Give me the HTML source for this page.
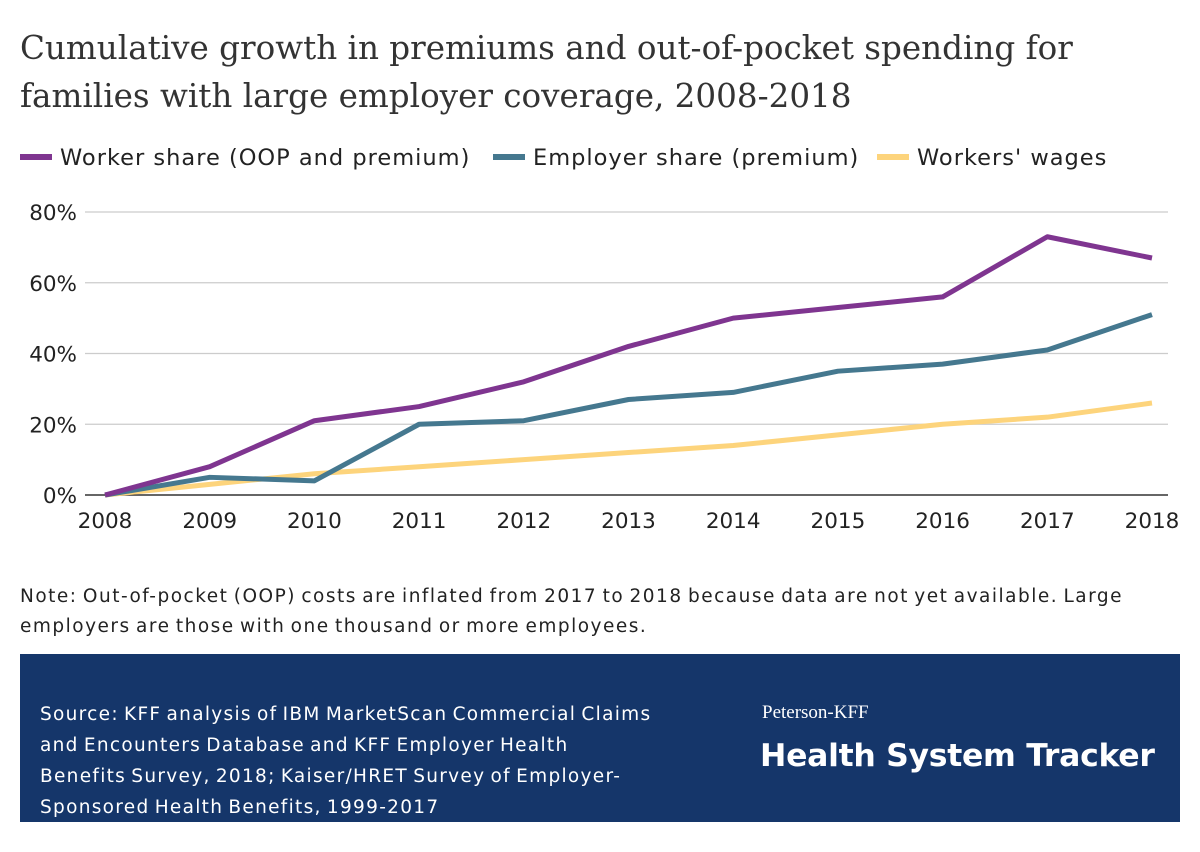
<!DOCTYPE html>
<html><head><meta charset="utf-8"><style>
body{margin:0;width:1200px;height:852px;background:#fff;font-family:"Liberation Sans",sans-serif;overflow:hidden;position:relative}
.t{position:absolute;white-space:nowrap}
</style></head><body>
<div class="t" style="left:20px;top:24px;font-family:'DejaVu Serif','Liberation Serif',serif;font-size:32.6px;line-height:48px;color:#333">Cumulative growth in premiums and out-of-pocket spending for<br>families with large employer coverage, 2008-2018</div>
<svg id="c" width="1200" height="560" style="position:absolute;left:0;top:0"></svg>
<div class="t" style="left:20px;top:582px;font-family:'DejaVu Sans',sans-serif;font-size:18.5px;line-height:30px;color:#222;letter-spacing:1.5px;word-spacing:-2px">Note: Out-of-pocket (OOP) costs are inflated from 2017 to 2018 because data are not yet available. Large<br>employers are those with one thousand or more employees.</div>
<div class="t" style="left:20px;top:654px;width:1160px;height:168px;background:#15366a">
<div class="t" style="left:20px;top:45px;font-family:'DejaVu Sans',sans-serif;font-size:18.5px;line-height:31px;color:#fff;letter-spacing:1.3px;word-spacing:-2px">Source: KFF analysis of IBM MarketScan Commercial Claims<br>and Encounters Database and KFF Employer Health<br>Benefits Survey, 2018; Kaiser/HRET Survey of Employer-<br>Sponsored Health Benefits, 1999-2017</div>
<div class="t" style="left:742px;top:48px;font-family:'Liberation Serif',serif;font-size:19px;color:#fff">Peterson-KFF</div>
<div class="t" style="left:740px;top:84px;font-family:'DejaVu Sans',sans-serif;font-size:31.5px;font-weight:bold;color:#fff;letter-spacing:-0.3px">Health System Tracker</div>
</div>
<script>
const years=[2008,2009,2010,2011,2012,2013,2014,2015,2016,2017,2018];
const worker=[0,8,21,25,32,42,50,53,56,73,67];
const employer=[0,5,4,20,21,27,29,35,37,41,51];
const wages=[0,3,6,8,10,12,14,17,20,22,26];
const yTicks=[0,20,40,60,80];
const NS="http://www.w3.org/2000/svg",svg=document.getElementById('c');
const x=i=>105+i*(1152-105)/(years.length-1);
const y=v=>495-v*(495-212)/80;
function mk(t,a){const e=document.createElementNS(NS,t);for(const k in a)e.setAttribute(k,a[k]);svg.appendChild(e);return e;}
yTicks.forEach(v=>{
 const l=mk('line',{x1:85,x2:1168,y1:y(v),y2:y(v),stroke:v===0?'#333':'#ccc','stroke-width':v===0?1.5:1.2});
 
 
 const t=mk('text',{x:77,y:y(v)+8,'text-anchor':'end','font-size':21.5,'font-family':'DejaVu Sans, sans-serif',fill:'#222'});t.textContent=v+'%';
 
 
});
years.forEach((yr,i)=>{
 const t=mk('text',{x:x(i),y:528,'text-anchor':'middle','font-size':21.5,'font-family':'DejaVu Sans, sans-serif',fill:'#222'});t.textContent=yr;
 
 
});
[[wages,'#fdd47c','wages-line'],[employer,'#45788f','employer-line'],[worker,'#7f3590','worker-line']].forEach(([d,c,n])=>{
 const p=mk('polyline',{points:d.map((v,i)=>x(i)+','+y(v)).join(' '),fill:'none',stroke:c,'stroke-width':5,'stroke-linejoin':'round'});
 
 
});
const leg=[['Worker share (OOP and premium)','#7f3590',20],['Employer share (premium)','#45788f',493],["Workers' wages",'#fdd47c',877]];
leg.forEach(([s,c,lx])=>{
 const l=mk('line',{x1:lx,x2:lx+32,y1:157,y2:157,stroke:c,'stroke-width':6});
 
 
 const t=mk('text',{x:lx+40,y:165,'font-size':22.5,'letter-spacing':1,'font-family':'DejaVu Sans, sans-serif',fill:'#222'});t.textContent=s;
 
 
});
</script>
</body></html>
